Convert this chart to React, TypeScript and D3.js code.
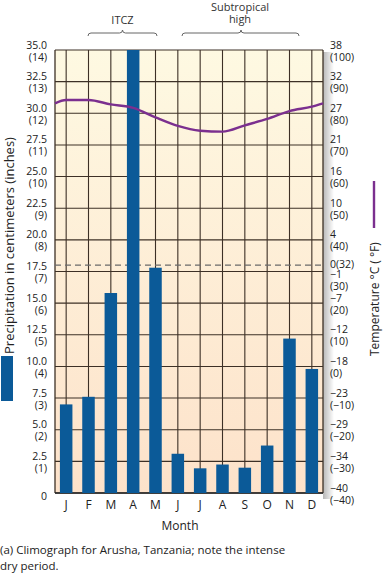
import React from "react";
import * as d3 from "d3";

const months = ["J", "F", "M", "A", "M ", "J ", "J  ", "A ", "S", "O", "N", "D"];
const monthLabels = ["J", "F", "M", "A", "M", "J", "J", "A", "S", "O", "N", "D"];
const precipCm = [7.0, 7.6, 15.8, 35.0, 17.8, 3.1, 1.95, 2.25, 2.0, 3.75, 12.2, 9.8];
const tempF = [84.2, 84.2, 82.8, 81.7, 78.7, 76.0, 74.5, 74.2, 76.2, 78.2, 80.7, 82.1];
const leftTicks = [
  ["0", ""], ["2.5", "(1)"], ["5.0", "(2)"], ["7.5", "(3)"], ["10.0", "(4)"], ["12.5", "(5)"],
  ["15.0", "(6)"], ["17.5", "(7)"], ["20.0", "(8)"], ["22.5", "(9)"], ["25.0", "(10)"],
  ["27.5", "(11)"], ["30.0", "(12)"], ["32.5", "(13)"], ["35.0", "(14)"],
];
const leftTickValues = [0, 2.5, 5, 7.5, 10, 12.5, 15, 17.5, 20, 22.5, 25, 27.5, 30, 32.5, 35];
const rightTickValuesF = [-40, -30, -20, -10, 0, 10, 20, 30, 40, 50, 60, 70, 80, 90, 100];
const rightTickC = ["−40", "−34", "−29", "−23", "−18", "−12", "−7", "−1", "4", "10", "16", "21", "27", "32", "38"];
const rightTickF = ["(−40)", "(−30)", "(−20)", "(−10)", "(0)", "(10)", "(20)", "(30)", "(40)", "(50)", "(60)", "(70)", "(80)", "(90)", "(100)"];
const freezingF = 32;

const FONT = "'Open Sans', sans-serif";

export default function App() {
  const L = 55, R = 323, T = 50, B = 493;
  const x = d3.scalePoint<string>().domain(months).range([L, R]).padding(0.5);
  const step = x.step();
  const barW = step * 0.56;
  const y = d3.scaleLinear().domain([0, 35]).range([B, T]);
  const yF = d3.scaleLinear().domain([-40, 100]).range([B, T]);

  const edgeT = (tempF[0] + tempF[11]) / 2;
  const linePts: [number, number][] = [
    [L, yF(edgeT)],
    ...months.map((m, i) => [x(m)!, yF(tempF[i])] as [number, number]),
    [R, yF(edgeT)],
  ];
  const line = d3.line().curve(d3.curveMonotoneX)(linePts) || "";

  const grid = "#3d3026";
  const brace = (x1: number, x2: number, xm: number, yb: number) =>
    `M${x1},${yb + 3} q0,-3 3,-3 L${xm - 3},${yb} q3,0 3,-3 q0,3 3,3 L${x2 - 3},${yb} q3,0 3,3`;

  return (
    <svg width={384} height={573} style={{ position: "absolute", left: 0, top: 0, background: "#fff" }} fontFamily={FONT}>
      <defs>
        <linearGradient id="bg" x1="0" y1="0" x2="0" y2="1">
          <stop offset="0" stopColor="#fef9e2" />
          <stop offset="1" stopColor="#fde2ca" />
        </linearGradient>
        <linearGradient id="sh" x1="0" y1="0" x2="1" y2="0">
          <stop offset="0" stopColor="#000" stopOpacity={0.28} />
          <stop offset="1" stopColor="#000" stopOpacity={0} />
        </linearGradient>
      </defs>
      <rect x={R} y={T + 2} width={11} height={B - T + 4} fill="url(#sh)" />
      <rect x={L} y={T} width={R - L} height={B - T} fill="url(#bg)" />
      {leftTickValues.map((v) => (
        <line key={"h" + v} x1={L} x2={R} y1={y(v)} y2={y(v)} stroke={grid} strokeWidth={1.1} />
      ))}
      {months.map((m) => (
        <line key={"v" + m} x1={x(m)} x2={x(m)} y1={T} y2={B} stroke={grid} strokeWidth={1.1} />
      ))}
      <line x1={L} x2={L} y1={T} y2={B} stroke={grid} strokeWidth={1.3} />
      <line x1={R} x2={R} y1={T} y2={B} stroke={grid} strokeWidth={1.3} />
      <line x1={L} x2={R} y1={B} y2={B} stroke="#222" strokeWidth={1.5} />
      <line x1={L} x2={R} y1={yF(freezingF)} y2={yF(freezingF)} stroke="#6a6a6a" strokeWidth={1.2} strokeDasharray="6,4" />
      {months.map((m, i) => (
        <rect key={"b" + m} x={x(m)! - barW / 2} y={y(precipCm[i])} width={barW} height={B - y(precipCm[i])} fill="#0b5a98" />
      ))}
      <path d={line} fill="none" stroke="#7b2f8f" strokeWidth={2.4} />
      {leftTickValues.map((v, i) => (
        <g key={"lt" + v} fontSize={10.5} fill="#222" textAnchor="end">
          {leftTicks[i][1] === "" ? (
            <text x={47} y={y(v) + 6.5}>{leftTicks[i][0]}</text>
          ) : (
            <>
              <text x={47} y={y(v) - 1.5}>{leftTicks[i][0]}</text>
              <text x={47} y={y(v) + 10.5}>{leftTicks[i][1]}</text>
            </>
          )}
        </g>
      ))}
      {rightTickValuesF.map((v, i) => {
        const off = v === 30 ? 8 : 0;
        return (
          <g key={"rt" + v} fontSize={10.5} fill="#222">
            <text x={330} y={yF(v) - 1.5 + off}>{rightTickC[i]}</text>
            <text x={330} y={yF(v) + 10.5 + off}>{rightTickF[i]}</text>
          </g>
        );
      })}
      <text x={330} y={yF(freezingF) + 3} fontSize={10.5} fill="#222">0(32)</text>
      {months.map((m, i) => (
        <text key={"m" + m} x={x(m)} y={509} fontSize={12} fill="#222" textAnchor="middle">{monthLabels[i]}</text>
      ))}
      <text x={180} y={530} fontSize={12} fill="#222" textAnchor="middle">Month</text>
      <text transform="translate(13.5,354) rotate(-90)" fontSize={13} fill="#222">Precipitation in centimeters (inches)</text>
      <rect x={1} y={356} width={12} height={45} fill="#0b5a98" />
      <text transform="translate(378.5,356) rotate(-90)" fontSize={12} fill="#222">Temperature  °C ( °F)</text>
      <line x1={374} x2={374} y1={181} y2={228} stroke="#7b2f8f" strokeWidth={2.4} />
      <text x={122.5} y={24} fontSize={11} fill="#333" textAnchor="middle">ITCZ</text>
      <path d={brace(88, 157, 122.5, 33)} fill="none" stroke="#666" strokeWidth={1} />
      <text x={240} y={11} fontSize={11} fill="#333" textAnchor="middle">Subtropical</text>
      <text x={240} y={22.5} fontSize={11} fill="#333" textAnchor="middle">high</text>
      <path d={brace(182, 299, 241, 33)} fill="none" stroke="#666" strokeWidth={1} />
      <text x={0} y={554} fontSize={11.5} fill="#222">(a) Climograph for Arusha, Tanzania; note the intense</text>
      <text x={0} y={570} fontSize={11.5} fill="#222">dry period.</text>
    </svg>
  );
}
